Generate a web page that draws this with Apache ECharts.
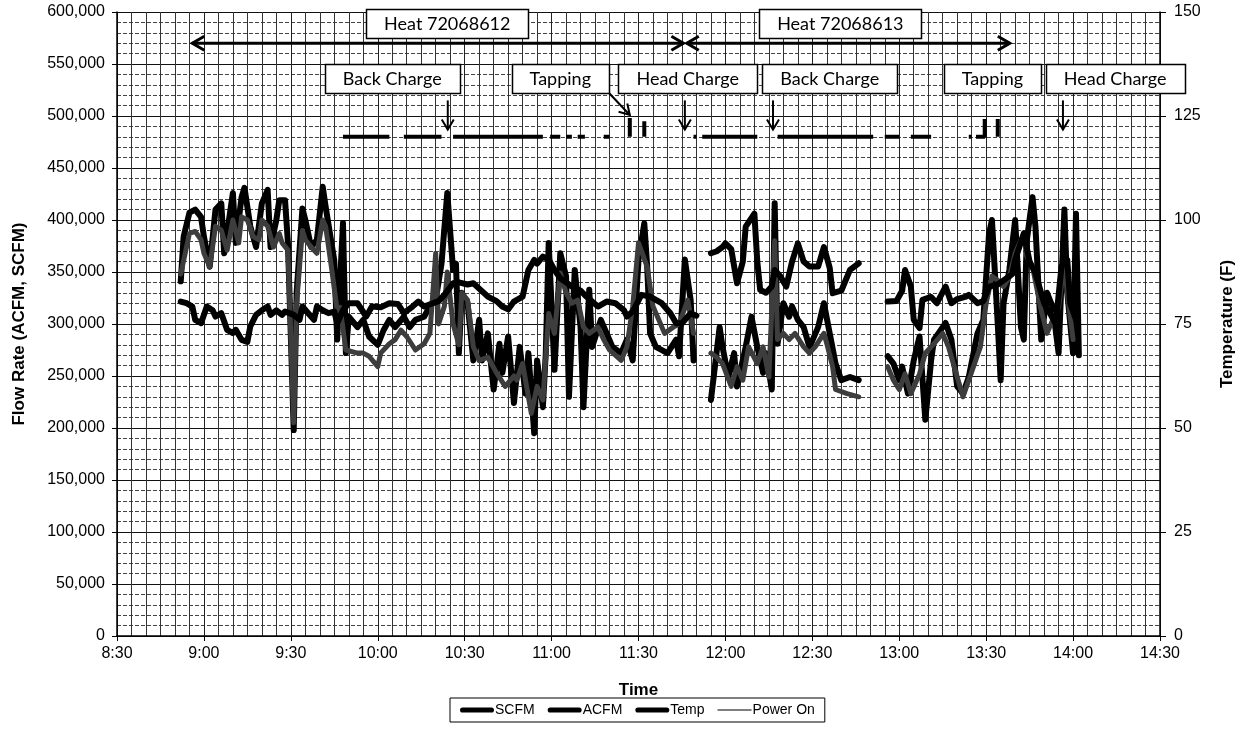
<!DOCTYPE html>
<html><head><meta charset="utf-8">
<script src="https://cdn.jsdelivr.net/npm/echarts@6/dist/echarts.min.js"></script>
<style>html,body{margin:0;padding:0;background:#fff}#c{width:1243px;height:752px}</style>
</head><body><div id="c"></div>
<script>
// ---- data (time "H:MM[:SS]", value) ----
const acfm = [
["8:52",341000],["8:53",384000],["8:55",407000],["8:57",410000],["8:59",403000],["9:00",384000],["9:02",355000],["9:04",410000],["9:06",416000],["9:07",368000],["9:10",426000],["9:11",378000],["9:13",422000],["9:14",431000],["9:16",394000],["9:18",374000],["9:20",416000],["9:22",429000],["9:23",374000],["9:25",400000],["9:26",419000],["9:28",419000],["9:29",378000],["9:31",198000],["9:32",330000],["9:34",411000],["9:35",400000],["9:37",374000],["9:39",381000],["9:41",432000],["9:42",413000],["9:45",361000],["9:46",285000],["9:48",397000],["9:49",272000],
["9:50",307000],["9:53",297000],["9:55",304000],["9:57",288000],["10:00",280000],["10:02",294000],["10:04",304000],["10:06",297000],["10:09",307000],["10:11",297000],["10:13",304000],["10:16",307000],["10:18",317000],["10:20",323000],["10:22",358000],["10:24",426000],["10:26",352000],["10:27",358000],["10:28",272000],["10:29",330000],["10:31",320000],["10:33",265000],["10:35",304000],["10:36",265000],["10:38",291000],["10:40",237000],["10:42",281000],["10:43",253000],["10:45",288000],["10:47",224000],["10:49",278000],["10:51",233000],["10:52",272000],["10:54",195000],["10:55",265000],["10:57",220000],["10:58",272000],["10:59",378000],["11:01",256000],["11:03",368000],["11:05",346000],["11:06",230000],["11:08",352000],["11:10",297000],["11:11",220000],["11:13",333000],["11:14",278000],["11:17",304000],["11:19",291000],["11:21",278000],["11:24",272000],["11:26",285000],["11:28",265000],["11:30",362000],["11:32",397000],["11:33",355000],["11:34",291000],["11:36",278000],["11:40",272000],["11:43",285000],["11:44",269000],["11:46",362000],["11:48",323000],["11:49",265000],
["11:52",null],
["11:55",227000],["11:58",297000],["11:59",278000],["12:01",249000],["12:03",272000],["12:04",240000],["12:07",278000],["12:09",307000],["12:11",278000],["12:13",253000],["12:14",272000],["12:16",237000],["12:17",416000],["12:18",281000],["12:20",320000],["12:22",307000],["12:23",317000],["12:25",304000],["12:27",297000],["12:29",278000],["12:30",284000],["12:32",297000],["12:34",320000],["12:36",291000],["12:38",262000],["12:40",246000],["12:43",249000],["12:46",246000],
["12:50",null],
["12:56",269000],["12:58",262000],["13:00",246000],["13:01",259000],["13:03",233000],["13:05",265000],["13:07",288000],["13:09",208000],["13:11",265000],["13:12",285000],["13:15",297000],["13:16",301000],["13:18",285000],["13:20",240000],["13:22",233000],["13:24",249000],["13:27",291000],["13:29",304000],["13:31",387000],["13:32",400000],["13:34",300000],["13:35",246000],["13:36",320000],["13:38",352000],["13:40",400000],["13:42",297000],["13:43",285000],["13:44",380000],["13:46",422000],["13:47",394000],["13:49",285000],["13:51",330000],["13:53",316000],["13:55",272000],["13:57",410000],["13:58",330000],["14:00",272000],["14:01",406000],["14:02",270000]
];
const scfm = [
["8:52",348000],["8:53",361000],["8:55",387000],["8:57",389000],["8:59",381000],["9:00",368000],["9:02",355000],["9:04",394000],["9:06",390000],["9:08",371000],["9:10",400000],["9:12",378000],["9:13",403000],["9:15",400000],["9:17",384000],["9:19",381000],["9:20",400000],["9:22",394000],["9:24",374000],["9:26",387000],["9:27",378000],["9:29",371000],["9:31",205000],["9:32",320000],["9:34",390000],["9:35",381000],["9:37",374000],["9:39",368000],["9:41",400000],["9:42",394000],["9:44",355000],["9:46",313000],["9:47",316000],["9:49",275000],["9:53",272000],["9:55",272000],["9:57",269000],["10:00",259000],["10:01",272000],["10:04",281000],["10:06",285000],["10:08",294000],["10:10",288000],["10:13",275000],["10:16",281000],["10:18",291000],["10:20",368000],["10:21",300000],["10:23",317000],["10:24",350000],["10:26",300000],["10:28",280000],["10:29",330000],["10:31",323000],["10:33",278000],["10:35",265000],["10:38",268000],["10:41",253000],["10:44",240000],["10:47",250000],["10:48",246000],["10:50",262000],["10:53",214000],["10:55",240000],["10:57",227000],["10:59",310000],["11:01",291000],["11:03",349000],["11:05",330000],["11:07",320000],["11:09",323000],["11:11",297000],["11:13",291000],["11:16",297000],["11:18",285000],["11:20",275000],["11:24",265000],["11:26",278000],["11:28",317000],["11:30",378000],["11:33",355000],["11:35",317000],["11:39",291000],["11:42",297000],["11:44",300000],["11:47",323000],["11:49",291000],
["11:52",null],
["11:55",272000],["11:57",268000],["11:59",262000],["12:02",240000],["12:04",259000],["12:06",246000],["12:08",278000],["12:11",262000],["12:13",278000],["12:15",249000],["12:17",380000],["12:18",285000],["12:20",291000],["12:22",285000],["12:24",291000],["12:27",278000],["12:29",272000],["12:31",278000],["12:34",291000],["12:35",281000],["12:37",259000],["12:38",237000],["12:42",233000],["12:46",230000],
["12:50",null],
["12:56",259000],["12:58",246000],["13:00",237000],["13:02",252000],["13:04",233000],["13:07",252000],["13:09",272000],["13:12",281000],["13:15",291000],["13:17",278000],["13:20",249000],["13:22",230000],["13:24",246000],["13:28",278000],["13:30",320000],["13:32",346000],["13:34",342000],["13:36",336000],["13:38",345000],["13:40",368000],["13:43",387000],["13:44",365000],["13:46",355000],["13:49",313000],["13:51",291000],["13:53",304000],["13:55",316000],["13:57",359000],["13:58",330000],["14:00",285000]
];
const temp = [
["8:52",80.4],["8:54",80],["8:56",79.2],["8:57",76],["8:59",75.2],["9:01",79.2],["9:03",78.3],["9:04",76.8],["9:06",77.6],["9:08",73.6],["9:10",72.8],["9:11",73.6],["9:13",71.2],["9:15",70.7],["9:16",74.4],["9:18",77.2],["9:20",78.3],["9:22",79.2],["9:23",77.2],["9:25",78.3],["9:27",77.2],["9:28",78],["9:31",77.2],["9:33",76],["9:34",79.2],["9:36",77.6],["9:38",76],["9:39",79.2],["9:41",78.3],["9:43",77.6],["9:45",78],["9:46",75.2],["9:48",78.3],["9:50",80],["9:53",80],["9:56",76.8],["9:58",79.2],["10:01",79],["10:04",80],["10:07",79.8],["10:09",77.6],["10:12",79.2],["10:14",80.4],["10:16",79.2],["10:19",80],["10:21",80.5],["10:23",82],["10:26",84.8],["10:28",85],["10:31",84.5],["10:33",84.8],["10:35",83.5],["10:38",81.6],["10:41",80.5],["10:43",79.2],["10:45",78.5],["10:47",80.4],["10:50",81.6],["10:52",88],["10:54",90.4],["10:55",89.5],["10:57",91.2],["10:59",90.5],["11:01",88],["11:03",86],["11:05",85],["11:07",84],["11:10",83],["11:12",81.6],["11:16",79.2],["11:19",80.4],["11:22",80],["11:25",78.3],["11:26",76.8],["11:28",78],["11:31",82],["11:34",81.6],["11:38",80],["11:41",77.6],["11:43",75.2],["11:45",75.2],["11:48",77.6],["11:50",77],
["11:52",null],
["11:55",92],["11:57",92.5],["11:59",93.5],["12:00",94.4],["12:02",93],["12:04",84.8],["12:06",90],["12:07",98.4],["12:10",101.5],["12:11",90],["12:12",83.2],["12:14",82.5],["12:16",84],["12:17",88],["12:19",86.4],["12:21",84],["12:23",90],["12:25",94.4],["12:27",90],["12:29",88.8],["12:32",88.8],["12:34",93.5],["12:36",88.5],["12:37",82.4],["12:40",83],["12:43",88],["12:46",89.6],
["12:50",null],
["12:56",80.4],["12:59",80.5],["13:01",83],["13:02",88],["13:04",84],["13:05",76],["13:07",74],["13:08",80.8],["13:11",81.5],["13:13",80],["13:16",84],["13:18",80],["13:20",81],["13:23",81.6],["13:24",82],["13:27",80],["13:29",80.5],["13:31",84],["13:34",84.5],["13:36",85.5],["13:39",87],["13:40",90.4],["13:43",96.8],["13:45",90],["13:47",87.2],["13:50",80],["13:52",77.6],["13:54",75],["13:56",88.8],["13:58",90.4],["13:59",80],["14:01",76]
];
const powerOn = [
["9:48",480000],["10:04",480000],["10:05",null],
["10:09",480000],["10:22",480000],["10:23",null],
["10:26",480000],["10:57",480000],["10:58",null],
["10:59:30",480000],["11:03",480000],["11:04",null],
["11:05",480000],["11:07",480000],["11:08",null],
["11:09",480000],["11:11:30",480000],["11:12",null],
["11:18",480000],["11:20",480000],["11:21",null],
["11:27",480000],["11:27",498000],["11:28",null],
["11:32",480000],["11:32",495000],["11:33",null],
["11:49",480000],["11:50",480000],["11:51",null],
["11:52",480000],["12:11",480000],["12:12",null],
["12:18",480000],["12:51",480000],["12:52",null],
["12:55",480000],["13:00",480000],["13:01",null],
["13:04",480000],["13:11",480000],["13:12",null],
["13:24",480000],["13:25",480000],["13:25:30",null],
["13:26:30",480000],["13:29:30",480000],["13:29:30",497000],["13:30",null],
["13:34",480000],["13:34",497000]
];
const xTickLabels = ["8:30","9:00","9:30","10:00","10:30","11:00","11:30","12:00","12:30","13:00","13:30","14:00","14:30"];
// annotations: label text and anchor (time, flow value)
const boxLabels = ["Heat 72068612","Heat 72068613","Back Charge","Tapping","Head Charge","Back Charge","Tapping","Head Charge"];
const boxAnchors = [["10:24",589000],["12:39:40",589000],["10:05",536000],["11:03",536000],["11:47",536000],["12:36",536000],["13:32:10",536000],["14:14:30",536000]];
// arrows: start time, start value, end time, end value, heads (2 = both ends)
const arrows = [
["8:56",570000,"11:45:30",570000,2],
["11:46:40",570000,"13:38:10",570000,2],
["10:24:10",515000,"10:24:10",487000,1],
["11:46",515000,"11:46",487000,1],
["12:16:25",515000,"12:16:25",487000,1],
["13:56:30",515000,"13:56:30",487000,1],
["11:18:50",525000,"11:27",501000,1]
];

function toMin(s){const p=s.split(':').map(Number);return p[0]*60+p[1]+(p[2]||0)/60;}
function prep(arr){return arr.map(d=>[toMin(d[0]), d[1]===null?'-':d[1]]);}
function fmtTime(v){const h=Math.floor(v/60), m=Math.round(v-h*60);return h+':'+(m<10?'0':'')+m;}
const xMin = toMin(xTickLabels[0]), xMax = toMin(xTickLabels[xTickLabels.length-1]);

const mctx = document.createElement('canvas').getContext('2d');
const boxFont = '18px Lato';
function textW(t){mctx.font=boxFont;return mctx.measureText(t).width;}

const chart = echarts.init(document.getElementById('c'), null, {renderer:'canvas'});
const axisFont = {fontFamily:'Liberation Sans, Arial, sans-serif', fontSize:16, color:'#000'};
const titleFont = {fontFamily:'Liberation Sans, Arial, sans-serif', fontSize:17, fontWeight:'bold', color:'#000'};
const lineBase = {width:6, color:'#000', cap:'round', join:'round'};
const thickIcon = 'path://M3,0H37A3,3 0 0 1 37,6H3A3,3 0 0 1 3,0Z';
const thinIcon = 'path://M0,0H0.05V0.05H0Z M0,2.3H40V3.7H0Z M39.95,5.95H40V6H39.95Z';

chart.setOption({
  backgroundColor:'#fff',
  animation:false,
  grid:{left:117, right:83, top:12, bottom:116, containLabel:false, outerBoundsMode:'none'},
  legend:{
    left:450, top:698, orient:'horizontal',
    borderColor:'#000', borderWidth:1, padding:[5,10,5,10], itemGap:13,
    itemWidth:34, itemHeight:6,
    textStyle:{fontFamily:'Liberation Sans, Arial, sans-serif', fontSize:14, color:'#000', padding:[0,0,0,-4]},
    data:[
      {name:'SCFM', icon:thickIcon, itemStyle:{color:'#000'}},
      {name:'ACFM', icon:thickIcon, itemStyle:{color:'#000'}},
      {name:'Temp', icon:thickIcon, itemStyle:{color:'#000'}},
      {name:'Power On', icon:thinIcon, itemStyle:{color:'#000'}}
    ]
  },
  xAxis:{
    type:'value', min:xMin, max:xMax, interval:30,
    name:'Time', nameLocation:'middle', nameGap:46,
    nameTextStyle:titleFont,
    axisLine:{show:true, lineStyle:{color:'#000', width:1.5}},
    axisTick:{show:true, length:5, lineStyle:{color:'#000'}},
    axisLabel:Object.assign({margin:10, formatter:fmtTime}, axisFont),
    splitLine:{show:true, lineStyle:{color:'#222', width:1}},
    minorTick:{show:false, splitNumber:6},
    minorSplitLine:{show:true, lineStyle:{color:'#333', width:1}}
  },
  yAxis:[{
    type:'value', min:0, max:600000, interval:50000,
    name:'Flow Rate (ACFM, SCFM)', nameLocation:'middle', nameGap:89,
    nameTextStyle:titleFont,
    axisLine:{show:true, lineStyle:{color:'#000', width:1.5}},
    axisTick:{show:true, length:5, lineStyle:{color:'#000'}},
    axisLabel:Object.assign({margin:12, formatter:v=>v.toLocaleString('en-US')}, axisFont),
    splitLine:{show:true, lineStyle:{color:'#111', width:1}},
    minorTick:{show:false, splitNumber:5},
    minorSplitLine:{show:true, lineStyle:{color:'#444', width:1, type:[4,2]}}
  },{
    type:'value', min:0, max:150, interval:25, position:'right',
    name:'Temperature (F)', nameLocation:'middle', nameGap:59,
    nameTextStyle:titleFont,
    axisLine:{show:true, lineStyle:{color:'#000', width:1.5}},
    axisTick:{show:true, length:6, lineStyle:{color:'#000'}},
    axisLabel:Object.assign({margin:14}, axisFont),
    splitLine:{show:false}
  }],
  series:[
    {name:'ACFM', type:'line', data:prep(acfm), showSymbol:false, symbol:'none', connectNulls:false, lineStyle:Object.assign({}, lineBase), itemStyle:{color:'#000'}, z:3},
    {name:'SCFM', type:'line', data:prep(scfm), showSymbol:false, symbol:'none', connectNulls:false, lineStyle:Object.assign({}, lineBase, {color:'#3d3d3d', width:5}), itemStyle:{color:'#3d3d3d'}, z:4},
    {name:'Temp', type:'line', yAxisIndex:1, data:prep(temp), showSymbol:false, symbol:'none', connectNulls:false, lineStyle:Object.assign({}, lineBase), itemStyle:{color:'#000'}, z:5},
    {name:'Power On', type:'line', data:prep(powerOn), showSymbol:false, symbol:'none', connectNulls:false, lineStyle:{width:4, color:'#000', cap:'butt'}, itemStyle:{color:'#000'}, z:5},
    {
      name:'boxes', type:'custom', silent:true, clip:false, z:10,
      data:boxAnchors.map((a,i)=>[toMin(a[0]), a[1], i]),
      encode:{x:0, y:1},
      renderItem:(params, api)=>{
        const c = api.coord([api.value(0), api.value(1)]);
        const label = boxLabels[api.value(2)];
        const w = Math.round(textW(label)+36), h = 29;
        const x0 = Math.round(c[0]-w/2)+0.5, y0 = Math.round(c[1]-h/2)+0.5;
        return {type:'group', children:[
          {type:'rect', shape:{x:x0, y:y0, width:w, height:h}, style:{fill:'#fff', stroke:'#000', lineWidth:1.5}},
          {type:'text', style:{text:label, x:c[0], y:c[1]+1, align:'center', verticalAlign:'middle', font:boxFont, fill:'#000'}}
        ]};
      }
    },
    {
      name:'arrows', type:'custom', silent:true, clip:false, z:9,
      data:arrows.map(a=>[toMin(a[0]), a[1], toMin(a[2]), a[3], a[4]]),
      encode:{x:[0,2], y:[1,3]},
      renderItem:(params, api)=>{
        const p1 = api.coord([api.value(0), api.value(1)]);
        const p2 = api.coord([api.value(2), api.value(3)]);
        const both = api.value(4)===2;
        const lw = both?3:2, hl = both?12:10, hw = both?7:6;
        const head=(tip, from)=>{
          const dx=tip[0]-from[0], dy=tip[1]-from[1], L=Math.hypot(dx,dy), ux=dx/L, uy=dy/L;
          return {type:'polyline', shape:{points:[[tip[0]-ux*hl-uy*hw, tip[1]-uy*hl+ux*hw], [tip[0],tip[1]], [tip[0]-ux*hl+uy*hw, tip[1]-uy*hl-ux*hw]]}, style:{stroke:'#000', lineWidth:lw, fill:null}};
        };
        const ch=[{type:'line', shape:{x1:p1[0],y1:p1[1],x2:p2[0],y2:p2[1]}, style:{stroke:'#000', lineWidth:lw}}, head(p2,p1)];
        if(both) ch.push(head(p1,p2));
        return {type:'group', children:ch};
      }
    }
  ]
});
</script>
</body></html>
